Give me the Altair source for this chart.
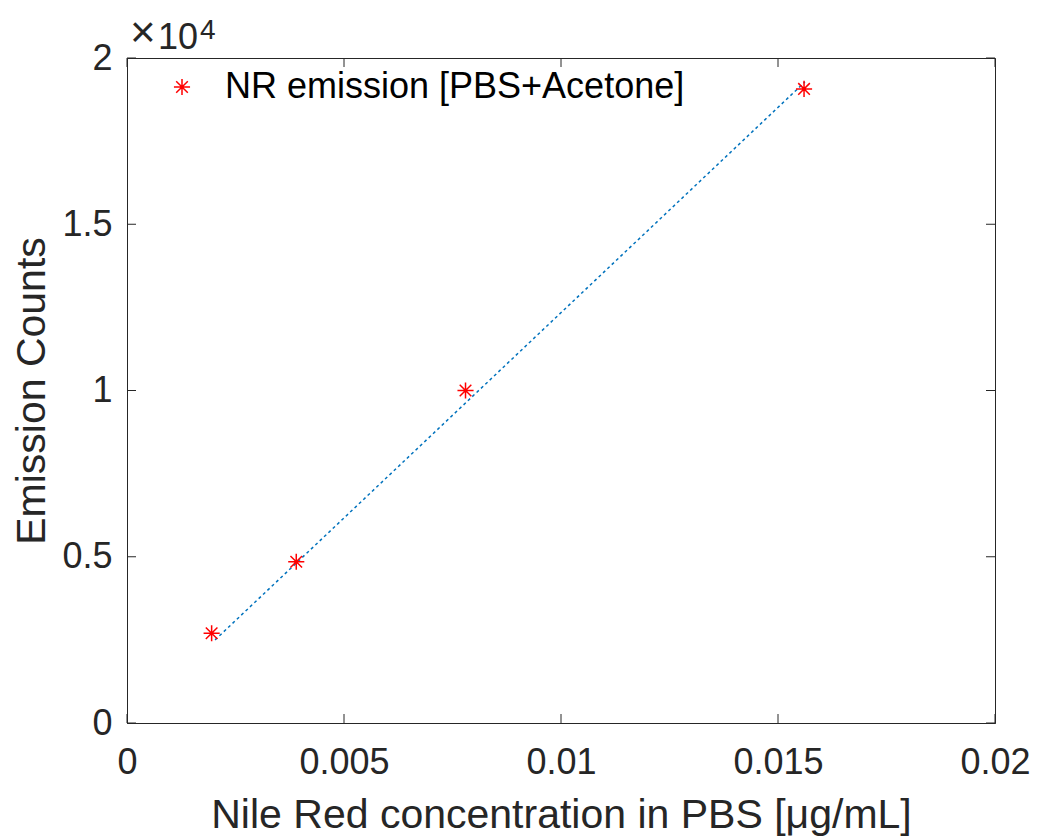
import altair as alt
import pandas as pd

# data
conc = [0.00195, 0.0039, 0.0078, 0.0156]
counts = [2700, 4850, 10000, 19070]
fit_conc = [0.00203, 0.01562]
fit_counts = [2500, 19280]
x_ticks = [0, 0.005, 0.01, 0.015, 0.02]
y_ticks = [0, 5000, 10000, 15000, 20000]
series_name = "NR emission [PBS+Acetone]"

W, H = 868, 665
FONT = "Liberation Sans"
INK = "#262626"
STAR = "M-1,0L1,0M0,-1L0,1M-0.72,-0.72L0.72,0.72M-0.72,0.72L0.72,-0.72"

pts = pd.DataFrame({"x": conc, "y": counts, "s": [series_name] * len(conc)})
fit = pd.DataFrame({"x": fit_conc, "y": fit_counts})
xt = pd.DataFrame({"x": x_ticks})
yt = pd.DataFrame({"y": y_ticks})

xscale = alt.Scale(domain=[0, 0.02], nice=False, zero=False)
yscale = alt.Scale(domain=[0, 20000], nice=False, zero=False)

x_axis = alt.Axis(values=x_ticks, ticks=False, grid=False, labelFontSize=36, labelPadding=22,
                  labelColor=INK, labelFont=FONT, labelExpr="'' + datum.value",
                  title="Nile Red concentration in PBS [μg/mL]", titleFont=FONT, titleFontSize=41,
                  titleFontWeight="normal", titleColor=INK, titleBaseline="alphabetic", titleY=104,
                  domainColor=INK, domainWidth=1, labelFlush=False, labelOverlap=False)
y_axis = alt.Axis(values=y_ticks, ticks=False, grid=False, labelFontSize=36, labelPadding=15,
                  labelColor=INK, labelFont=FONT, labelExpr="'' + datum.value / 10000",
                  title="Emission Counts", titleFont=FONT, titleFontSize=41,
                  titleFontWeight="normal", titleColor=INK, titleBaseline="alphabetic",
                  titleX=-83, titleY=H / 2, titleAlign="center", titleAngle=-90,
                  domainColor=INK, domainWidth=1, labelFlush=False, labelOverlap=False)

X = alt.X("x:Q", scale=xscale, axis=x_axis)
Y = alt.Y("y:Q", scale=yscale, axis=y_axis)

line = alt.Chart(fit).mark_line(color="#0072BD", strokeWidth=1.5, strokeDash=[3, 3]).encode(
    x=X, y=Y)

points = alt.Chart(pts).mark_point(filled=False, strokeWidth=1.5, size=260, opacity=1).encode(
    x=X, y=Y,
    color=alt.Color("s:N", scale=alt.Scale(domain=[series_name], range=["#FF0000"]),
                    legend=alt.Legend(title=None, orient="none", legendX=37, legendY=11,
                                      padding=0, labelFontSize=36, labelFont=FONT,
                                      labelColor="#000000", labelOffset=25, labelLimit=0,
                                      symbolType=STAR, symbolSize=260, symbolStrokeWidth=1.5,
                                      symbolFillColor="transparent")),
    shape=alt.Shape("s:N", scale=alt.Scale(domain=[series_name], range=[STAR]), legend=None),
)

tick_style = dict(color=INK, strokeWidth=1)
t_bottom = alt.Chart(xt).mark_rule(**tick_style).encode(
    x=X, y=alt.value(H), y2=alt.value(H - 9))
t_top = alt.Chart(xt).mark_rule(**tick_style).encode(
    x=X, y=alt.value(0), y2=alt.value(9))
t_left = alt.Chart(yt).mark_rule(**tick_style).encode(
    y=Y, x=alt.value(0), x2=alt.value(9))
t_right = alt.Chart(yt).mark_rule(**tick_style).encode(
    y=Y, x=alt.value(W), x2=alt.value(W - 9))

exp_times = alt.Chart(pd.DataFrame({"t": ["×"]})).mark_text(
    font=FONT, fontSize=44, color=INK, align="left", baseline="alphabetic").encode(
    text="t:N", x=alt.value(3), y=alt.value(-11))
exp_base = alt.Chart(pd.DataFrame({"t": ["10"]})).mark_text(
    font=FONT, fontSize=36, color=INK, align="left", baseline="alphabetic").encode(
    text="t:N", x=alt.value(31), y=alt.value(-9))
exp_sup = alt.Chart(pd.DataFrame({"t": ["4"]})).mark_text(
    font=FONT, fontSize=28, color=INK, align="left", baseline="alphabetic").encode(
    text="t:N", x=alt.value(73), y=alt.value(-19))

chart = alt.layer(line, points, t_bottom, t_top, t_left, t_right,
                  exp_times, exp_base, exp_sup).properties(
    width=W, height=H,
    background="white",
    autosize=alt.AutoSizeParams(type="none"),
    padding={"left": 119, "top": 50, "right": 36, "bottom": 117},
).configure_view(stroke=INK, strokeWidth=1)

chart.save("out.html", embed_options={"renderer": "svg", "actions": False})
